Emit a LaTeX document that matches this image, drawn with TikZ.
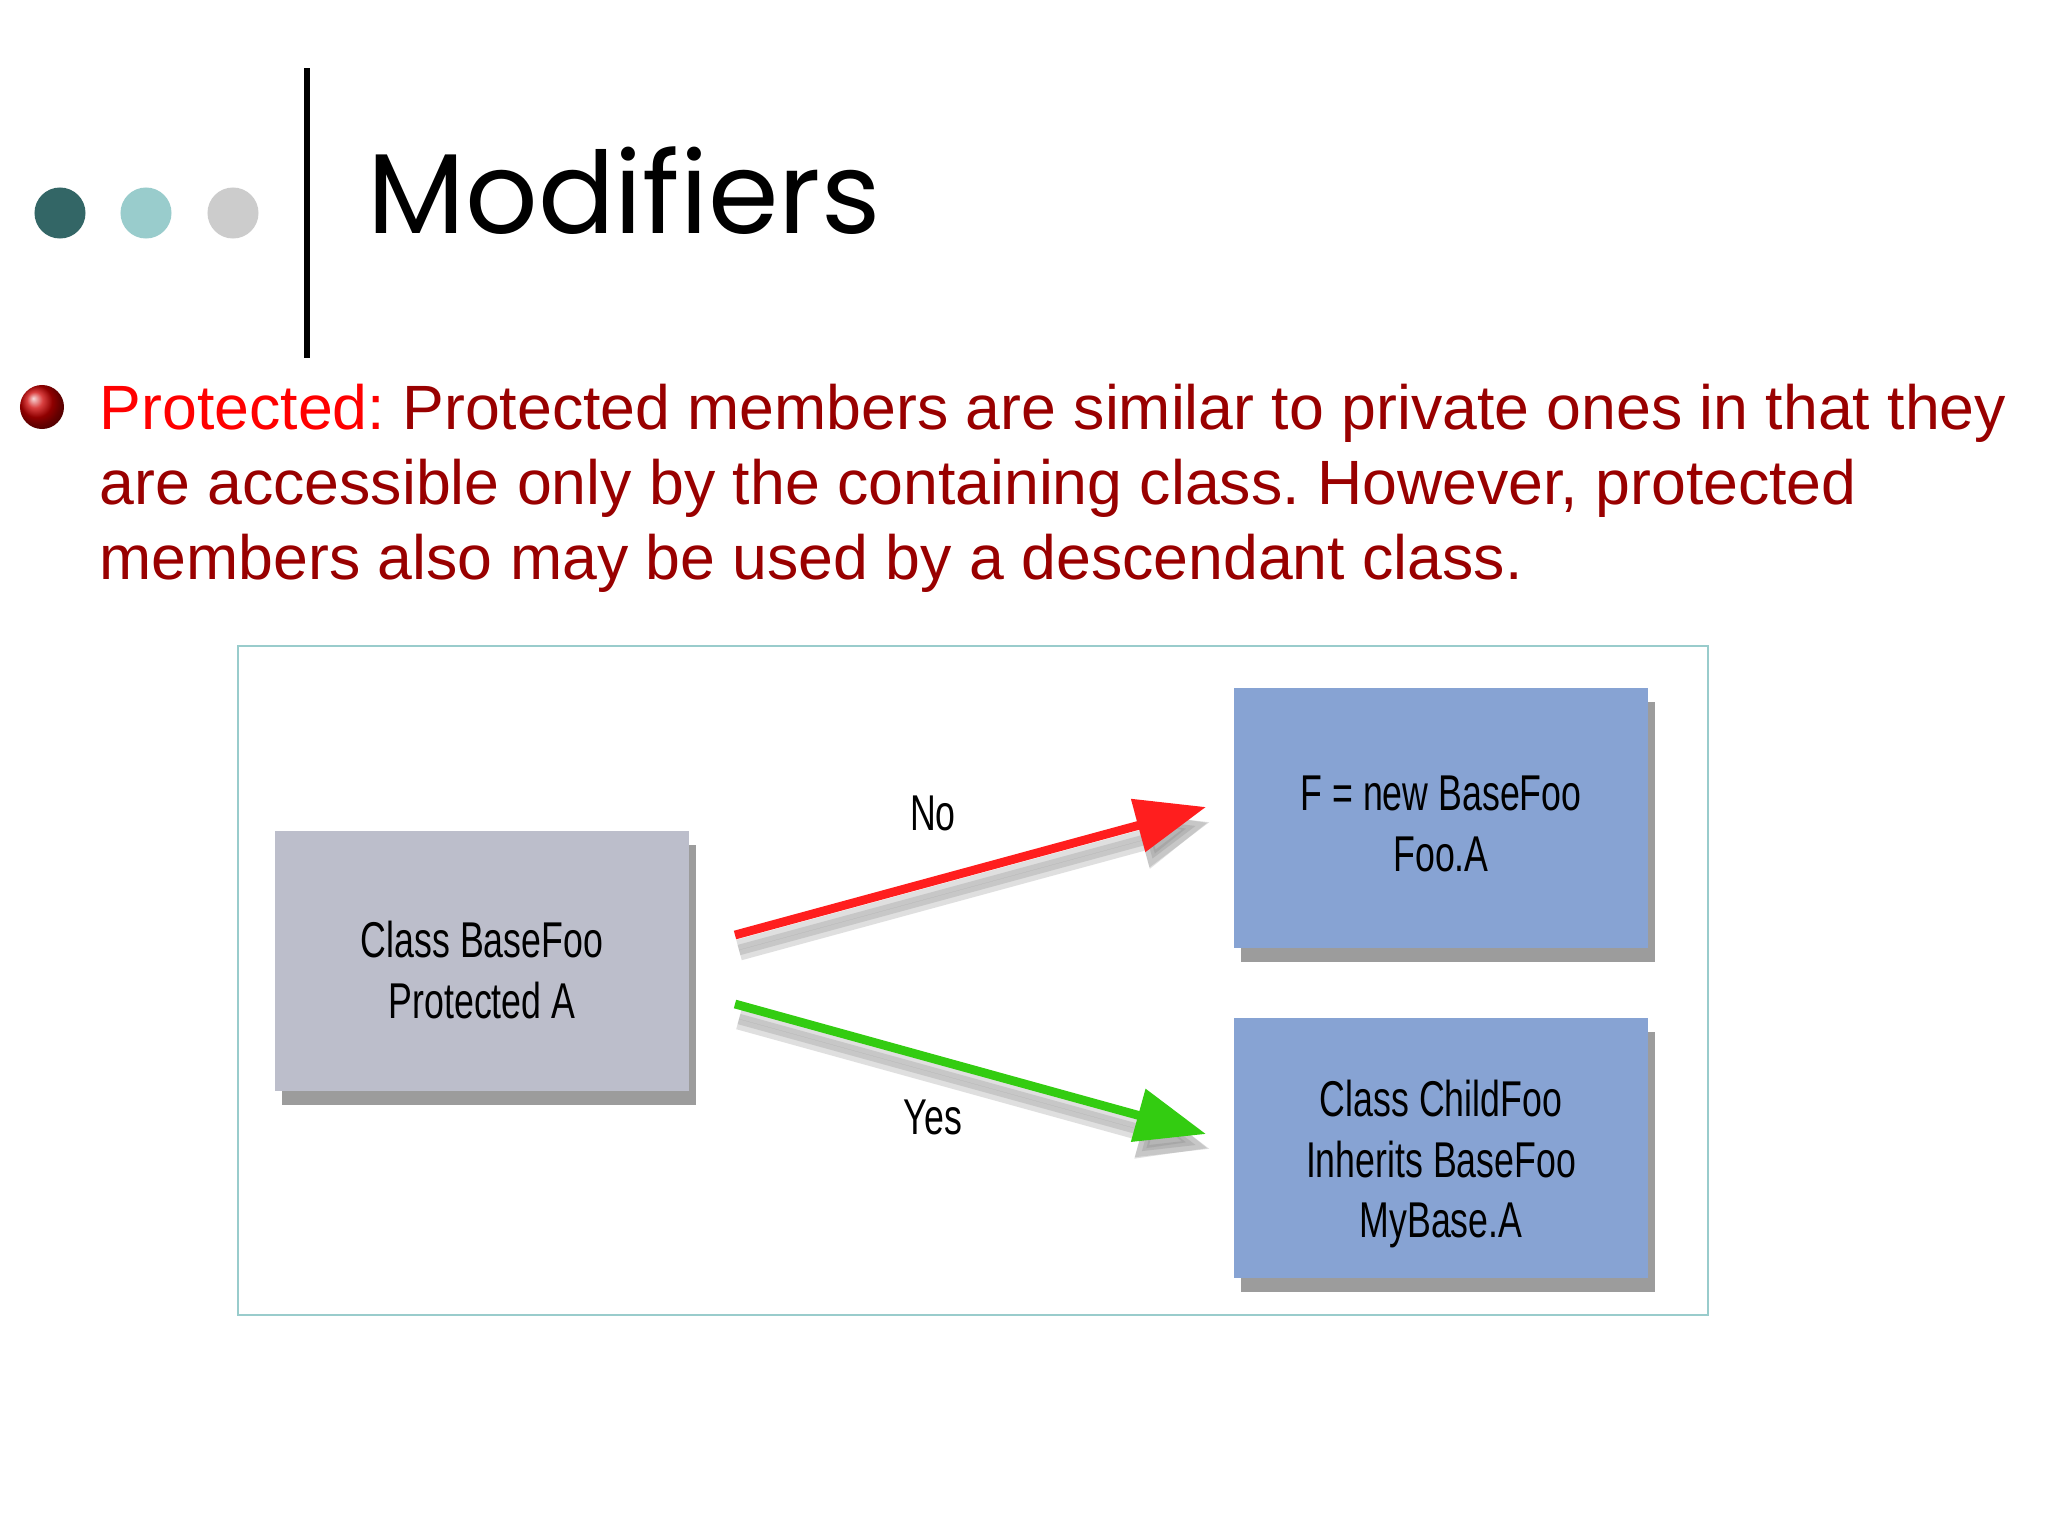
\documentclass[tikz,border=0pt]{standalone}
\usepackage{fontspec}
\setmainfont{Liberation Sans}
\newfontfamily\titlefont{Poppins}
\newfontfamily\narrowfont[FakeStretch=0.71]{Liberation Sans}
\usetikzlibrary{arrows.meta,shadows}
\frenchspacing
\definecolor{dteal}{HTML}{336666}
\definecolor{lteal}{HTML}{99CCCC}
\definecolor{lgray}{HTML}{CCCCCC}
\definecolor{darkred}{HTML}{990000}
\definecolor{brightred}{HTML}{FF0000}
\definecolor{boxgray}{HTML}{BCBECB}
\definecolor{boxblue}{HTML}{87A3D3}
\definecolor{framecol}{HTML}{99CCCC}
\definecolor{arrred}{HTML}{FF1E1E}
\definecolor{arrgreen}{HTML}{33CC11}
\tikzset{
  bodyline/.style={anchor=base west, inner sep=0pt, text=darkred,
    font=\fontsize{17.8}{21.3}\selectfont},
  classbox/.style={minimum width=4.13cm, minimum height=2.59cm, inner sep=0pt,
    align=center, font=\narrowfont\fontsize{14.3}{17.3}\selectfont,
    drop shadow={shadow xshift=0.07cm, shadow yshift=-0.14cm, fill=black!55, opacity=0.7}},
  arrlabel/.style={inner sep=0pt, font=\narrowfont\fontsize{14.3}{17.3}\selectfont},
  conn/.style={line width=2.5pt, -{Triangle[length=20pt,width=15pt]}},
  connshadow/.style={conn, draw=black!50, fill=black!50, opacity=0.25}
}
\begin{document}
\begin{tikzpicture}[x=0.01cm,y=-0.01cm]
\fill[white] (0,0) rectangle (2048,1536);
\useasboundingbox (0,0) rectangle (2048,1536);
% header dots and rule
\fill[dteal] (60,213) circle (0.255cm);
\fill[lteal] (146,213) circle (0.255cm);
\fill[lgray] (233,213) circle (0.255cm);
\draw[line width=1.5pt] (307,68) -- (307,358);
% title
\node (title) [anchor=base west, inner sep=0pt,
  font=\titlefont\fontsize{32.3}{40}\selectfont] at (367,233) {Modifiers};
% bullet
\shade[ball color=red!80!black] (42,407) circle (0.22cm);
\node (l1) [bodyline] at (99,429) {\textcolor{brightred}{Protected:} Protected members are similar to private ones in that they};
\node (l2) [bodyline] at (99,504) {are accessible only by the containing class. However, protected};
\node (l3) [bodyline] at (99,579) {members also may be used by a descendant class.};
% diagram frame
\draw[framecol, line width=0.8pt] (238,646) rectangle (1708,1315);
% boxes
\node (base) [classbox, fill=boxgray] at (482,961) {\rule{0pt}{15.7pt}Class BaseFoo\\Protected A};
\node (newf) [classbox, fill=boxblue] at (1441,818) {\rule{0pt}{13.1pt}F = new BaseFoo\\Foo.A};
\node (child) [classbox, fill=boxblue] at (1441,1148) {\rule{0pt}{19.5pt}Class ChildFoo\\Inherits BaseFoo\\MyBase.A};
% connector ends
\coordinate (noS) at (735,935);
\coordinate (noE) at (1206,807);
\coordinate (yesS) at (735,1004);
\coordinate (yesE) at (1206,1134);
\coordinate (noSs) at (739,950);
\coordinate (noEs) at (1210,822);
\coordinate (yesSs) at (739,1019);
\coordinate (yesEs) at (1210,1149);
% shadows of connectors (soft)
\draw[connshadow, line width=6pt] (noSs) -- (noEs);
\draw[connshadow, line width=3pt] (noSs) -- (noEs);
\draw[connshadow, line width=6pt] (yesSs) -- (yesEs);
\draw[connshadow, line width=3pt] (yesSs) -- (yesEs);
% connectors
\draw[conn, draw=arrred, fill=arrred] (noS) -- (noE);
\draw[conn, draw=arrgreen, fill=arrgreen] (yesS) -- (yesE);
\node (nolab) [arrlabel] at (933,813) {No};
\node (yeslab) [arrlabel] at (933,1117) {Yes};
\end{tikzpicture}
\end{document}
